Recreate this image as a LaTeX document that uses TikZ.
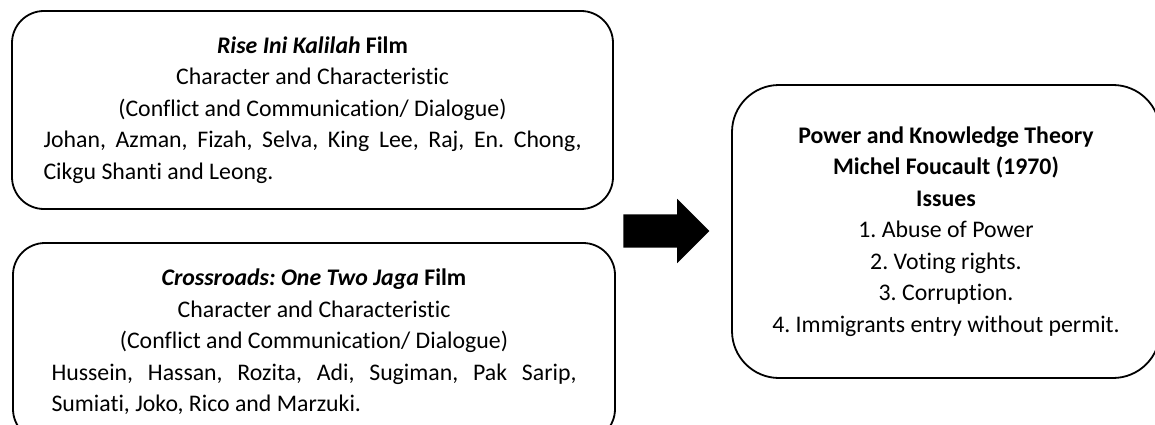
\documentclass[tikz,border=0pt]{standalone}
\usepackage{fontspec}
\setmainfont{Carlito}[Ligatures=NoCommon]
\frenchspacing
\usetikzlibrary{shapes.arrows}

\begin{document}
\begin{tikzpicture}[x=1pt,y=-1pt,
    filmbox/.style={draw, line width=1.8pt, rounded corners=32pt, align=justify,
        minimum height=198pt, inner xsep=0pt,
        font=\fontsize{23.8pt}{31.5pt}\selectfont},
    theorybox/.style={draw, line width=1.8pt, rounded corners=47pt, align=center,
        minimum width=428pt, minimum height=293pt,
        font=\fontsize{23.8pt}{31.5pt}\selectfont},
    blockarrow/.style={single arrow, fill=black, draw=none, inner xsep=0pt,
        inner ysep=16.5pt, minimum width=64pt, minimum height=86pt,
        single arrow head extend=15.5pt}]
    \clip (0,0) rectangle (1155,425);

    \node[filmbox, text width=538pt, minimum width=601pt] (rise) at (312.5,110) {%
        \centerline{\textbf{\textit{Rise Ini Kalilah} Film}}
        \centerline{Character and Characteristic}
        \centerline{(Conflict and Communication/ Dialogue)}
        \noindent Johan, Azman, Fizah, Selva, King Lee, Raj, En. Chong,\linebreak
        Cikgu Shanti and Leong.};
    \node[filmbox, text width=525pt, minimum width=602pt] (cross) at (314,342) {%
        \centerline{\textbf{\textit{Crossroads: One Two Jaga} Film}}
        \centerline{Character and Characteristic}
        \centerline{(Conflict and Communication/ Dialogue)}
        \noindent Hussein, Hassan, Rozita, Adi, Sugiman, Pak Sarip,\linebreak
        Sumiati, Joko, Rico and Marzuki.};
    \node[theorybox] (theory) at (946,231.5) {%
        \textbf{Power and Knowledge Theory}\\
        \textbf{Michel Foucault (1970)}\\
        \textbf{Issues}\\
        1. Abuse of Power\\
        2. Voting rights.\\
        3. Corruption.\\
        4. Immigrants entry without permit.};

    \node[blockarrow] (arrow) at (658,231) {};
\end{tikzpicture}
\end{document}
